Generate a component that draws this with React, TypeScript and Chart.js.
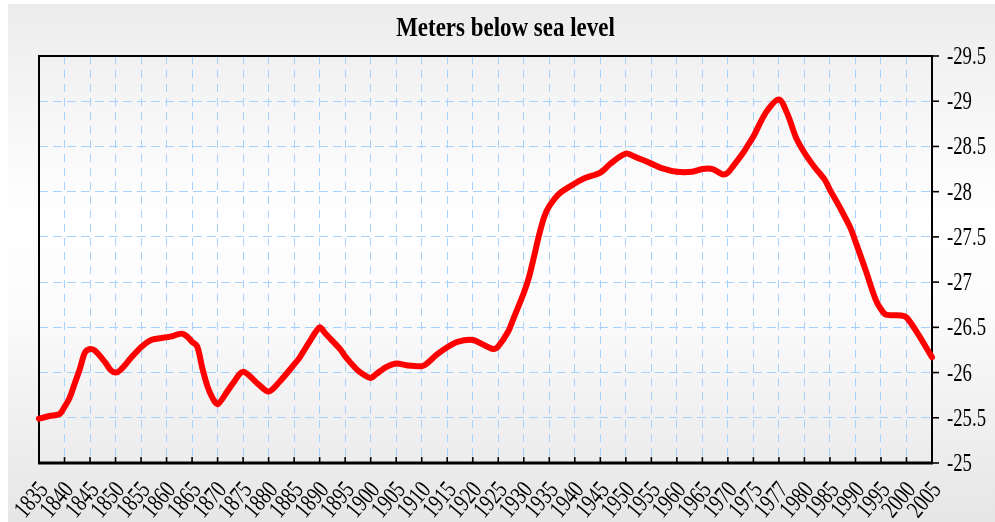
import React, { useEffect, useRef } from 'react';
import { Chart, registerables } from 'chart.js';

Chart.register(...registerables);

const titleText = 'Meters below sea level';

const categories = [
  1835, 1840, 1845, 1850, 1855, 1860, 1865, 1870, 1875, 1880, 1885, 1890,
  1895, 1900, 1905, 1910, 1915, 1920, 1925, 1930, 1935, 1940, 1945, 1950,
  1955, 1960, 1965, 1970, 1975, 1977, 1980, 1985, 1990, 1995, 2000, 2005,
];
const tickLabels = categories.map(String);

const years = [
  1835, 1837, 1839, 1840, 1841, 1842, 1843, 1844, 1845, 1846, 1848, 1849,
  1850, 1851, 1853, 1855, 1857, 1860, 1861, 1862, 1863, 1864, 1865, 1866,
  1867, 1868, 1869, 1870, 1872, 1873, 1875, 1878, 1880, 1882, 1885, 1886,
  1888, 1890, 1891, 1892, 1894, 1895, 1897, 1898, 1900, 1901, 1903, 1905,
  1907, 1910, 1911, 1913, 1915, 1917, 1920, 1922, 1924, 1925, 1927, 1928,
  1930, 1931, 1932, 1933, 1934, 1935, 1937, 1940, 1942, 1945, 1947, 1950,
  1952, 1955, 1957, 1960, 1963, 1965, 1967, 1969, 1970, 1971, 1973, 1974,
  1975, 1976, 1977, 1978, 1979, 1980, 1982, 1984, 1985, 1987, 1989, 1990,
  1992, 1994, 1995, 1996, 1999, 2000, 2002, 2005,
];
const levels = [
  -25.49, -25.52, -25.54, -25.62, -25.72, -25.88, -26.04, -26.22, -26.26, -26.24, -26.11, -26.03,
  -26.0, -26.03, -26.16, -26.28, -26.36, -26.39, -26.4, -26.42, -26.43, -26.4, -26.34, -26.29,
  -26.05, -25.85, -25.72, -25.65, -25.8, -25.88, -26.01, -25.87, -25.79, -25.89, -26.09, -26.16,
  -26.34, -26.5, -26.44, -26.38, -26.26, -26.18, -26.05, -26.0, -25.94, -25.98, -26.06, -26.1,
  -26.08, -26.07, -26.1, -26.2, -26.28, -26.34, -26.36, -26.31, -26.26, -26.29, -26.46, -26.6,
  -26.88, -27.05, -27.28, -27.52, -27.72, -27.84, -27.98, -28.09, -28.15, -28.21, -28.31, -28.42,
  -28.38, -28.31, -28.26, -28.22, -28.22, -28.25, -28.25, -28.19, -28.21, -28.28, -28.43, -28.52,
  -28.61, -28.88, -29.02, -28.86, -28.6, -28.43, -28.27, -28.13, -28.02, -27.82, -27.6, -27.45,
  -27.13, -26.8, -26.7, -26.64, -26.63, -26.61, -26.45, -26.17,
];

const yMin = -29.5;
const yMax = -25;
const yStep = 0.5;

function yearToPos(year: number): number {
  for (let i = 0; i < categories.length - 1; i++) {
    const a = categories[i];
    const b = categories[i + 1];
    if (year <= b) return i + (year - a) / (b - a);
  }
  return categories.length - 1;
}

const FONT = '"Liberation Serif", "Times New Roman", serif';

const decorPlugin = {
  id: 'decor',
  beforeDatasetsDraw(chart: any) {
    const { ctx, chartArea } = chart;
    const { left, right, top, bottom } = chartArea;
    const xs = chart.scales.x;
    const ys = chart.scales.y;
    ctx.save();
    ctx.strokeStyle = '#000';
    ctx.lineWidth = 2;
    ctx.strokeRect(left, top, right - left, bottom - top);
    ctx.lineWidth = 3;
    ctx.beginPath();
    ctx.moveTo(left - 1, bottom);
    ctx.lineTo(right + 1, bottom);
    ctx.stroke();
    ctx.lineWidth = 1.6;
    xs.ticks.forEach((t: any) => {
      const px = xs.getPixelForValue(t.value);
      if (px <= left + 1 || px >= right - 1) return;
      ctx.beginPath();
      ctx.moveTo(px, bottom);
      ctx.lineTo(px, bottom - 6);
      ctx.stroke();
    });
    ys.ticks.forEach((t: any) => {
      const py = ys.getPixelForValue(t.value);
      ctx.beginPath();
      ctx.moveTo(right, py);
      ctx.lineTo(right + 7, py);
      ctx.stroke();
    });
    ctx.restore();
  },
  afterDraw(chart: any) {
    const { ctx, chartArea } = chart;
    const { right, bottom } = chartArea;
    const xs = chart.scales.x;
    const ys = chart.scales.y;
    ctx.save();
    ctx.fillStyle = '#000';

    // y labels
    ctx.font = `25px ${FONT}`;
    ctx.textAlign = 'left';
    ctx.textBaseline = 'alphabetic';
    ys.ticks.forEach((t: any) => {
      const py = ys.getPixelForValue(t.value);
      ctx.save();
      ctx.translate(right + 15, py + 8);
      ctx.scale(0.75, 1);
      ctx.fillText(String(t.value), 0, 0);
      ctx.restore();
    });

    // x labels
    ctx.font = `25px ${FONT}`;
    ctx.textAlign = 'right';
    ctx.textBaseline = 'middle';
    xs.ticks.forEach((t: any) => {
      const idx = Math.round(t.value);
      const label = tickLabels[idx];
      if (label === undefined) return;
      const px = xs.getPixelForValue(t.value);
      ctx.save();
      ctx.translate(px + 5, bottom + 23);
      ctx.rotate((-50 * Math.PI) / 180);
      ctx.scale(0.75, 1);
      ctx.fillText(label, 0, 0);
      ctx.restore();
    });

    // title
    ctx.font = `bold 28px ${FONT}`;
    ctx.textAlign = 'center';
    ctx.textBaseline = 'alphabetic';
    ctx.save();
    ctx.translate(497.5, 32);
    ctx.scale(0.82, 1);
    ctx.fillText(titleText, 0, 0);
    ctx.restore();

    ctx.restore();
  },
};

export default function App() {
  const canvasRef = useRef<HTMLCanvasElement | null>(null);

  useEffect(() => {
    const canvas = canvasRef.current;
    if (!canvas) return;
    const gridColor = '#a8d2fb';
    const chart = new Chart(canvas, {
      type: 'line',
      data: {
        datasets: [
          {
            data: years.map((yr, i) => ({ x: yearToPos(yr), y: levels[i] })),
            borderColor: '#ff0000',
            borderWidth: 6,
            pointRadius: 0,
            pointHoverRadius: 0,
            tension: 0.3,
            fill: false,
            borderCapStyle: 'round',
            borderJoinStyle: 'round',
            clip: 6,
          } as any,
        ],
      },
      options: {
        animation: false,
        responsive: false,
        devicePixelRatio: 1,
        layout: { padding: { left: 31, top: 52, right: 63, bottom: 59 } },
        plugins: {
          legend: { display: false },
          tooltip: { enabled: false },
          title: { display: false },
        },
        scales: {
          x: {
            type: 'linear',
            min: 0,
            max: categories.length - 1,
            ticks: { stepSize: 1, display: false },
            grid: { color: gridColor, lineWidth: 1, drawTicks: false },
            border: { display: false, dash: [8, 6] },
          },
          y: {
            type: 'linear',
            position: 'right',
            reverse: true,
            min: yMin,
            max: yMax,
            ticks: { stepSize: yStep, display: false },
            grid: { color: gridColor, lineWidth: 1, drawTicks: false },
            border: { display: false, dash: [9, 5] },
          },
        },
      } as any,
      plugins: [decorPlugin],
    });
    return () => chart.destroy();
  }, []);

  return (
    <div
      style={{
        position: 'fixed',
        left: 8,
        top: 4,
        width: 987,
        height: 518,
        background:
          'linear-gradient(to bottom, #ececec 0%, #f8f8f8 25%, #ffffff 42%, #fbfbfb 60%, #f0f0f0 80%, #e6e6e6 100%)',
      }}
    >
      <canvas ref={canvasRef} width={987} height={518} style={{ display: 'block' }} />
    </div>
  );
}
